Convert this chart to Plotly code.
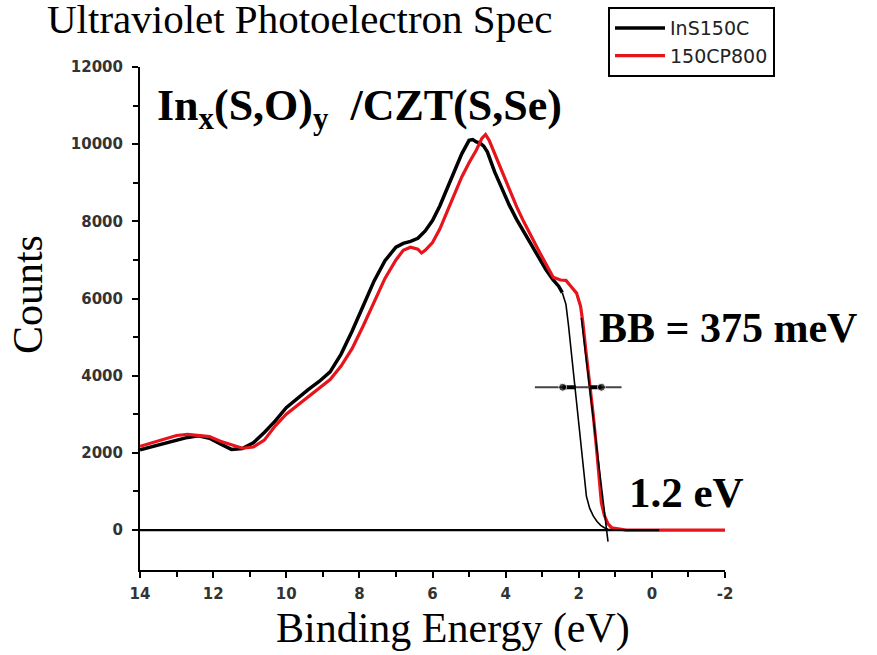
import plotly.graph_objects as go

# ---------------- data ----------------
energy_black = [14.0, 13.7, 13.4, 13.0, 12.7, 12.4, 12.1, 11.8, 11.5, 11.2, 10.9, 10.6, 10.3,
                10.0, 9.7, 9.4, 9.1, 8.8, 8.5, 8.2, 7.9, 7.6, 7.3, 7.0, 6.8, 6.6, 6.4, 6.2,
                6.0, 5.8, 5.6, 5.4, 5.2, 5.0, 4.9, 4.8, 4.7, 4.6, 4.5, 4.3, 4.1, 3.9, 3.7,
                3.5, 3.3, 3.1, 2.9, 2.7, 2.55, 2.45]
counts_black = [2080, 2150, 2230, 2330, 2400, 2440, 2380, 2230, 2090, 2110, 2260, 2530, 2830,
                3170, 3420, 3640, 3850, 4100, 4560, 5150, 5800, 6450, 6980, 7330, 7430, 7480,
                7560, 7750, 8020, 8400, 8850, 9300, 9750, 10100, 10120, 10060, 10030, 9950,
                9800, 9280, 8850, 8420, 8050, 7720, 7380, 7050, 6750, 6480, 6320, 6150]

energy_black_edge = [2.45, 2.35, 2.28, 2.2, 2.11, 2.02, 1.92, 1.85, 1.79, 1.7, 1.6, 1.5, 1.4,
                     1.3, 1.2, 1.0, -0.2]
counts_black_edge = [6150, 5850, 5300, 4600, 3800, 2950, 2070, 1400, 870, 560, 360, 220, 120,
                     60, 20, 0, 0]

energy_red = [14.0, 13.7, 13.4, 13.0, 12.7, 12.4, 12.1, 11.8, 11.5, 11.2, 10.9, 10.6, 10.3,
              10.0, 9.7, 9.4, 9.1, 8.8, 8.5, 8.2, 7.9, 7.6, 7.3, 7.0, 6.8, 6.6, 6.4, 6.3,
              6.2, 6.0, 5.8, 5.6, 5.4, 5.2, 5.0, 4.8, 4.65, 4.55, 4.45, 4.3, 4.1, 3.9, 3.7,
              3.5, 3.3, 3.1, 2.9, 2.7, 2.5, 2.35, 2.2, 2.06, 1.95, 1.89, 1.8, 1.7, 1.6,
              1.51, 1.44, 1.38, 1.3, 1.2, 1.1, 0.9, 0.7, -2.0]
counts_red = [2170, 2260, 2340, 2450, 2480, 2460, 2420, 2300, 2200, 2120, 2150, 2330, 2700,
              3000, 3230, 3450, 3660, 3900, 4250, 4700, 5280, 5920, 6520, 7000, 7250, 7330,
              7280, 7180, 7250, 7450, 7800, 8250, 8700, 9150, 9520, 9850, 10150, 10250, 10100,
              9750, 9300, 8850, 8380, 7980, 7600, 7250, 6900, 6550, 6480, 6470, 6300, 6140,
              5800, 5400, 4600, 3800, 2950, 2070, 1300, 700, 380, 160, 60, 20, 0, 0]

# leading-edge extrapolation line and band-bending marker
tangent_energy = [1.93, 1.20]
tangent_counts = [5500, -300]
bb_line_energy = [3.2, 0.83]
bb_level = 3700
bb_left_arrow = [2.44, 2.08]
bb_right_arrow = [1.38, 1.70]
baseline_energy = [14.0, -0.2]

series_names = ["InS150C", "150CP800"]
x_tick_vals = [14, 12, 10, 8, 6, 4, 2, 0, -2]
x_tick_text = ["14", "12", "10", "8", "6", "4", "2", "0", "-2"]
x_minor_vals = [13, 11, 9, 7, 5, 3, 1, -1]
y_tick_vals = [0, 2000, 4000, 6000, 8000, 10000, 12000]
y_tick_text = ["0", "2000", "4000", "6000", "8000", "10000", "12000"]
y_minor_vals = [1000, 3000, 5000, 7000, 9000, 11000]

# ---------------- figure ----------------
fig = go.Figure()

fig.add_trace(go.Scatter(x=energy_black, y=counts_black, mode="lines", name=series_names[0],
                         line=dict(color="black", width=3.5)))
fig.add_trace(go.Scatter(x=energy_black_edge, y=counts_black_edge, mode="lines",
                         line=dict(color="black", width=1.6), showlegend=False))
fig.add_trace(go.Scatter(x=energy_red, y=counts_red, mode="lines", name=series_names[1],
                         line=dict(color="#e8141c", width=3.2)))
fig.add_trace(go.Scatter(x=tangent_energy, y=tangent_counts, mode="lines",
                         line=dict(color="black", width=1.6), showlegend=False))
fig.add_trace(go.Scatter(x=baseline_energy, y=[0, 0], mode="lines",
                         line=dict(color="black", width=2.2), showlegend=False))
fig.add_trace(go.Scatter(x=bb_line_energy, y=[bb_level, bb_level], mode="lines",
                         line=dict(color="#444444", width=2), showlegend=False))
for seg in (bb_left_arrow, bb_right_arrow):
    fig.add_trace(go.Scatter(x=seg, y=[bb_level, bb_level], mode="lines+markers",
                             line=dict(color="black", width=4),
                             marker=dict(size=[8, 0], color="black"), showlegend=False))

serif = "Liberation Serif, Times New Roman, serif"
tickfont = dict(family="DejaVu Sans, Arial", size=15, color="#333", weight="bold")
fig.update_layout(
    width=877, height=655,
    margin=dict(l=140, r=152, t=67, b=85, autoexpand=False),
    paper_bgcolor="white", plot_bgcolor="white",
    title=dict(text="Ultraviolet Photoelectron Spec", x=47 / 877, xanchor="left",
               xref="container", yref="container", y=1 - 4 / 655, yanchor="top",
               pad=dict(t=0, b=0, l=0, r=0),
               font=dict(family=serif, size=41, color="black")),
    legend=dict(x=0.80, y=1.119, xanchor="left", yanchor="top", bgcolor="white",
                bordercolor="black", borderwidth=2, traceorder="normal",
                itemwidth=50,
                font=dict(family="DejaVu Sans, Arial", size=19, color="#222")),
    xaxis=dict(range=[14, -2], showgrid=False, zeroline=False, showline=True,
               linecolor="black", linewidth=2, ticks="outside", ticklen=6, tickwidth=2,
               tickcolor="black", tickvals=x_tick_vals, ticktext=x_tick_text,
               ticklabelstandoff=3, tickfont=tickfont,
               minor=dict(tickvals=x_minor_vals, ticks="outside", ticklen=5, tickwidth=2,
                          tickcolor="black")),
    yaxis=dict(range=[-1036, 12000], showgrid=False, zeroline=False, showline=True,
               linecolor="black", linewidth=2, ticks="outside", ticklen=6, tickwidth=2,
               tickcolor="black", tickvals=y_tick_vals, ticktext=y_tick_text,
               ticklabelstandoff=6, tickfont=tickfont,
               minor=dict(tickvals=y_minor_vals, ticks="outside", ticklen=5, tickwidth=2,
                          tickcolor="black")),
    annotations=[
        dict(text="Counts", textangle=-90, xref="paper", yref="paper", x=-0.191, y=0.547,
             showarrow=False, xanchor="center", yanchor="middle",
             font=dict(family=serif, size=42, color="black")),
        dict(text="Binding Energy (eV)", xref="paper", yref="paper", x=0.535, y=-0.117,
             showarrow=False, xanchor="center", yanchor="middle",
             font=dict(family=serif, size=42, color="black")),
        dict(text="<b>In<sub>x</sub>(S,O)<sub>y</sub>  /CZT(S,Se)</b>", xref="paper", yref="paper",
             x=0.0256, y=0.918, showarrow=False, xanchor="left", yanchor="middle",
             font=dict(family=serif, size=44, color="black")),
        dict(text="<b>BB = 375 meV</b>", xref="paper", yref="paper", x=0.781, y=0.481,
             showarrow=False, xanchor="left", yanchor="middle",
             font=dict(family=serif, size=42, color="black")),
        dict(text="<b>1.2 eV</b>", xref="paper", yref="paper", x=0.832, y=0.155,
             showarrow=False, xanchor="left", yanchor="middle",
             font=dict(family=serif, size=43, color="black")),
    ],
)

fig.write_html("out.html", config={"displayModeBar": False},
               post_script="document.body.style.margin='0';document.body.style.padding='0';")
